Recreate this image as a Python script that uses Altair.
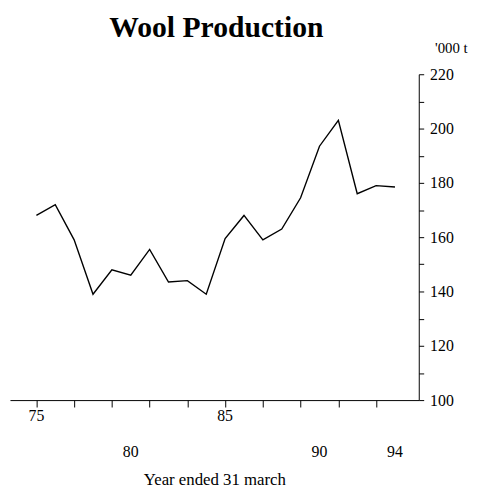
import altair as alt
import pandas as pd

years = list(range(75, 95))
production = [168, 172, 159, 139, 148, 146, 155.5, 143.5, 144, 139,
              159.5, 168, 159, 163, 174.5, 193.5, 203, 176, 179, 178.5]

label_years = [75, 80, 85, 90, 94]
label_row = ["high", "low", "high", "low", "low"]

df = pd.DataFrame({"year": years, "value": production})
lab = pd.DataFrame({"year": label_years, "text": [str(y) for y in label_years], "row": label_row})

FONT = "Liberation Serif"
xscale = alt.Scale(domain=[73.6, 95.26], nice=False, zero=False)
yscale = alt.Scale(domain=[100, 220], nice=False, zero=False)

line = alt.Chart(df).mark_line(color="black", strokeWidth=1.4).encode(
    x=alt.X("year:Q", scale=xscale,
            axis=alt.Axis(values=years, labels=False, tickSize=7, tickColor="black",
                          domainColor="black", grid=False, title="Year ended 31 march",
                          titleFont=FONT, titleFontSize=17, titleFontWeight="normal",
                          titleY=89, titleBaseline="bottom", titleColor="black")),
    y=alt.Y("value:Q", scale=yscale,
            axis=alt.Axis(orient="right", values=list(range(100, 221, 10)),
                          labelExpr="datum.value % 20 == 0 ? datum.label : ''",
                          tickSize=5, tickColor="black", domainColor="black", grid=False,
                          labelFont=FONT, labelFontSize=16, labelColor="black", labelPadding=6,
                          title="'000 t", titleAngle=0, titleFont=FONT, titleFontSize=15,
                          titleFontWeight="normal", titleColor="black", titleAlign="left",
                          titleX=16, titleY=-27, titleBaseline="middle")),
)

labels_hi = alt.Chart(lab[lab.row == "high"]).mark_text(
    font=FONT, fontSize=16, color="black", baseline="middle").encode(
    x=alt.X("year:Q", scale=xscale), y=alt.value(346), text="text:N")
labels_lo = alt.Chart(lab[lab.row == "low"]).mark_text(
    font=FONT, fontSize=16, color="black", baseline="middle").encode(
    x=alt.X("year:Q", scale=xscale), y=alt.value(383), text="text:N")

chart = alt.layer(line, labels_hi, labels_lo).properties(
    width=414, height=330,
    title=alt.TitleParams("Wool Production", font=FONT, fontSize=30, fontWeight="bold",
                          color="black", anchor="middle", dx=2, offset=-2),
    autosize=alt.AutoSizeParams(type="none"),
    padding={"left": 2, "top": 64, "right": 60, "bottom": 91},
).configure_view(stroke=None)

chart.save("out.html", embed_options={"renderer": "svg", "actions": False})
